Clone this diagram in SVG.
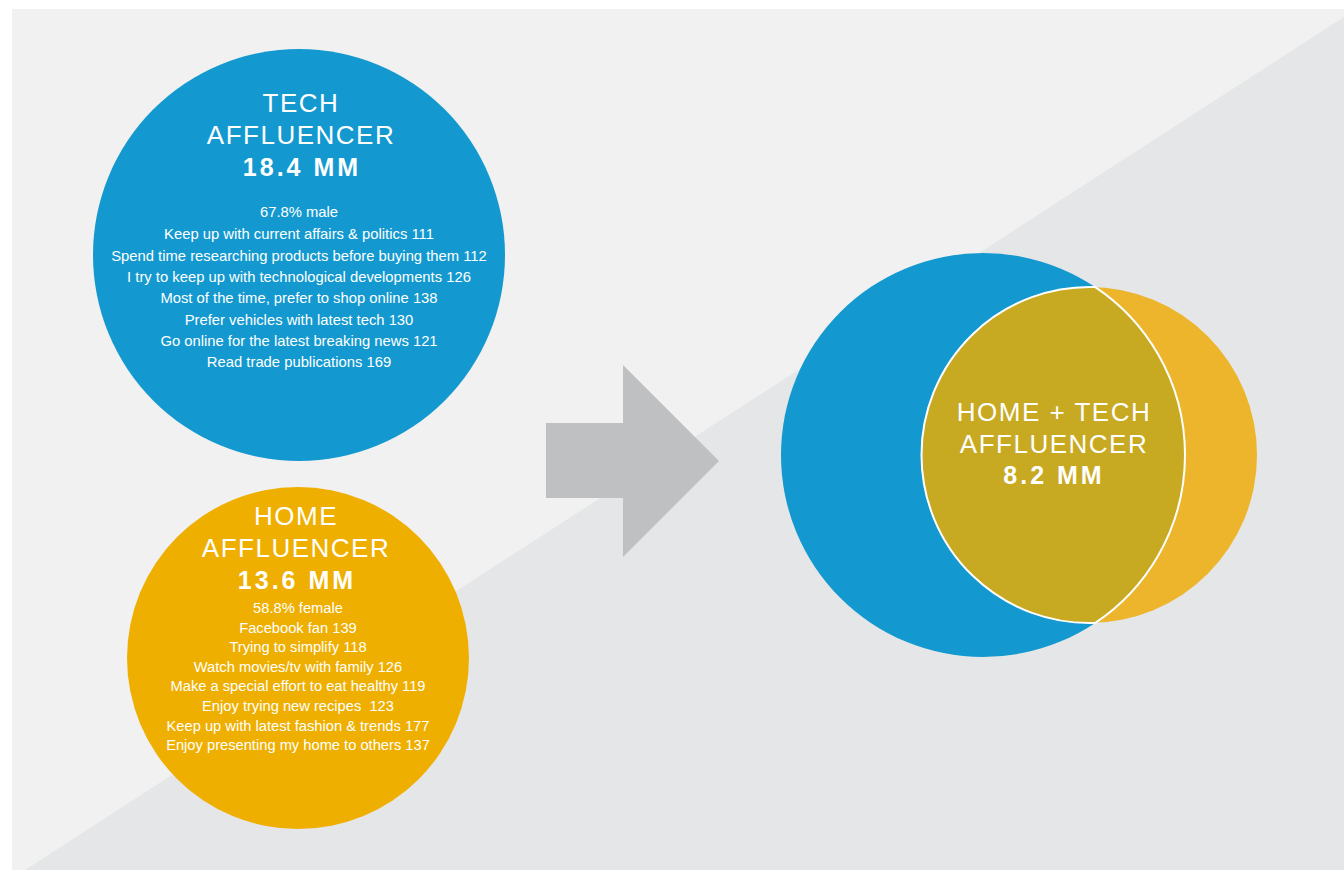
<svg xmlns="http://www.w3.org/2000/svg" width="1344" height="870" viewBox="0 0 1344 870">
<style>
text{font-family:"Liberation Sans",Arial,sans-serif;fill:#ffffff;text-anchor:middle}
.t{font-size:26px;letter-spacing:1.5px}
.n{font-size:25px;font-weight:bold;letter-spacing:3px}
.s{font-size:14.8px}
.h{font-size:14.7px}
</style>
<rect width="1344" height="870" fill="#ffffff"/>
<rect x="12" y="9" width="1332" height="861" fill="#f0f1f0"/>
<polygon points="25,870 1344,17 1344,870" fill="#e5e6e8"/>
<g id="tech">
<circle cx="299" cy="255" r="206" fill="#1399cf"/>
<text class="t" x="301" y="112">TECH</text>
<text class="t" x="301" y="144">AFFLUENCER</text>
<text class="n" x="302" y="176">18.4 MM</text>
<text class="s" x="299" y="217">67.8% male</text>
<text class="s" x="299" y="239">Keep up with current affairs &amp; politics 111</text>
<text class="s" x="299" y="261">Spend time researching products before buying them 112</text>
<text class="s" x="299" y="282">I try to keep up with technological developments 126</text>
<text class="s" x="299" y="303">Most of the time, prefer to shop online 138</text>
<text class="s" x="299" y="325">Prefer vehicles with latest tech 130</text>
<text class="s" x="299" y="346">Go online for the latest breaking news 121</text>
<text class="s" x="299" y="367">Read trade publications 169</text>
</g>
<g id="home">
<circle cx="298" cy="658" r="171" fill="#efaf00"/>
<text class="t" x="296" y="525">HOME</text>
<text class="t" x="296" y="557">AFFLUENCER</text>
<text class="n" x="297" y="589">13.6 MM</text>
<text class="h" x="298" y="613">58.8% female</text>
<text class="h" x="298" y="633">Facebook fan 139</text>
<text class="h" x="298" y="652">Trying to simplify 118</text>
<text class="h" x="298" y="672">Watch movies/tv with family 126</text>
<text class="h" x="298" y="691">Make a special effort to eat healthy 119</text>
<text class="h" x="298" y="711" xml:space="preserve">Enjoy trying new recipes  123</text>
<text class="h" x="298" y="731">Keep up with latest fashion &amp; trends 177</text>
<text class="h" x="298" y="750">Enjoy presenting my home to others 137</text>
</g>
<g id="connectors">
<polygon points="546,423 623,423 623,365 719,461 623,557 623,498 546,498" fill="#bfc0c1"/>
</g>
<g id="venn">
<circle cx="983" cy="455" r="202" fill="#1399cf"/>
<circle cx="1089" cy="455" r="168" fill="#ecb52b"/>
<path d="M1095.3,287.1 A168,168 0 1 0 1095.3,622.9 A202,202 0 0 0 1095.3,287.1 Z" fill="#c8a922" stroke="#ffffff" stroke-width="2"/>
<text class="t" x="1054" y="421">HOME + TECH</text>
<text class="t" x="1054" y="453">AFFLUENCER</text>
<text class="n" x="1054" y="484">8.2 MM</text>
</g>
</svg>
